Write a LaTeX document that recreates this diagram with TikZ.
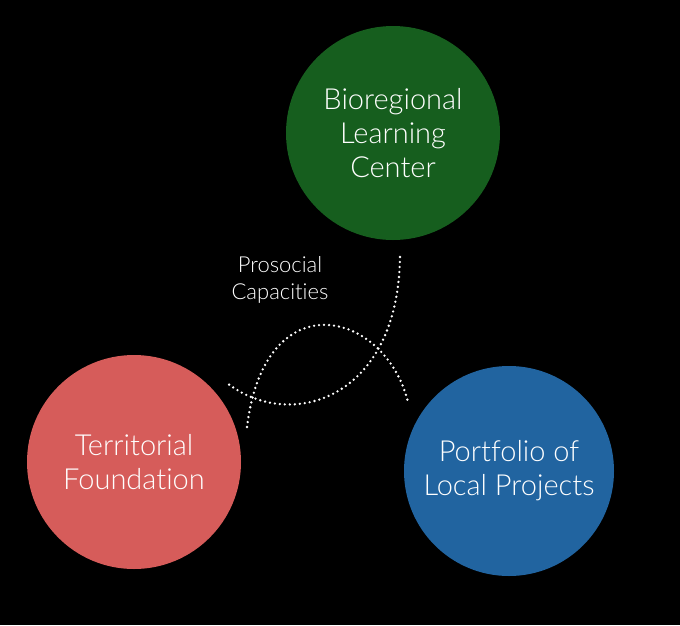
\documentclass[tikz,border=0pt]{standalone}
\usepackage{fontspec}
\setmainfont{Lato}[UprightFont=* Light,Ligatures={NoCommon,NoRare}]
\definecolor{cgreen}{RGB}{22,94,30}
\definecolor{cred}{RGB}{214,92,90}
\definecolor{cblue}{RGB}{33,100,160}
\tikzset{
  disc/.style={circle,minimum size=214pt,inner sep=0pt,text=white,align=center,font=\fontsize{29}{34}\selectfont},
  dots/.style={white,line width=2.6pt,line cap=round,dash pattern=on 0pt off 5pt}
}
\begin{document}
\begin{tikzpicture}[x=1pt,y=-1pt]
\fill[black](0,0)rectangle(680,625);
\useasboundingbox(0,0)rectangle(680,625);
\node[disc,fill=cgreen](blc)at(393,133){Bioregional\\Learning\\Center};
\node[disc,fill=cred](tf)at(134,462){Territorial\\Foundation};
\node[disc,fill=cblue,minimum size=210pt](plp)at(509,471){Portfolio of\\Local Projects};
\node[text=white,align=center,font=\fontsize{22}{27}\selectfont](pc)at(280,280){Prosocial\\Capacities};
% the two dotted arcs
\coordinate(a0)at(400,257);\coordinate(a1)at(227,383);
\coordinate(b0)at(247,427);\coordinate(b1)at(408,402);
\draw[dots](a0)..controls(398,400)and(290,432)..(a1);
\draw[dots](b0)..controls(265,280)and(385,310)..(b1);
\end{tikzpicture}
\end{document}
